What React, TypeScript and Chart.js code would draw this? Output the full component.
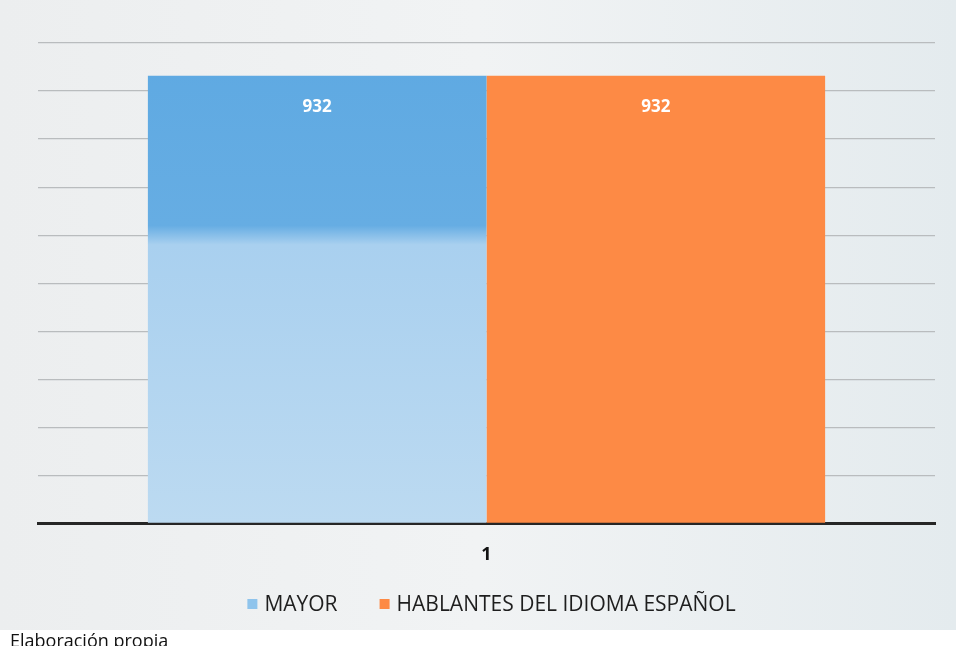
import React, { useEffect, useRef } from "react";
import { Chart, registerables } from "chart.js";

Chart.register(...registerables);

const categories = ["1"];
const seriesNames = ["MAYOR", "HABLANTES DEL IDIOMA ESPAÑOL"];
const mayorValues = [932];
const hablantesValues = [932];
const yMax = 1000;
const yStep = 100;
const legendColors = ["#8fc4ec", "#fd8a45"];

const valueLabels = {
  id: "valueLabels",
  afterDatasetsDraw(chart: any) {
    const ctx = chart.ctx;
    ctx.save();
    ctx.font = "bold 17px 'Open Sans', sans-serif";
    ctx.fillStyle = "#ffffff";
    ctx.textAlign = "center";
    ctx.textBaseline = "middle";
    chart.data.datasets.forEach((ds: any, i: number) => {
      const meta = chart.getDatasetMeta(i);
      meta.data.forEach((bar: any, j: number) => {
        ctx.fillText(String(ds.data[j]), bar.x, bar.y + 31);
      });
    });
    ctx.restore();
  },
};

const bottomLegend = {
  id: "bottomLegend",
  afterDraw(chart: any) {
    const ctx = chart.ctx;
    const area = chart.chartArea;
    ctx.save();
    ctx.font = "21px 'Open Sans', sans-serif";
    ctx.textBaseline = "middle";
    ctx.textAlign = "left";
    const box = 10;
    const gap = 7;
    const itemGap = 42;
    const items = chart.data.datasets.map((ds: any, i: number) => ({
      text: ds.label,
      color: legendColors[i],
      w: box + gap + ctx.measureText(ds.label).width,
    }));
    const total = items.reduce((s: number, it: any) => s + it.w, 0) + itemGap * (items.length - 1);
    let x = (area.left + area.right) / 2 + 5 - total / 2;
    const y = 605;
    items.forEach((it: any) => {
      ctx.fillStyle = it.color;
      ctx.fillRect(x, y - box / 2 - 1, box, box);
      ctx.fillStyle = "#1e1e1e";
      ctx.fillText(it.text, x + box + gap, y);
      x += it.w + itemGap;
    });
    ctx.restore();
  },
};

const bgPlugin = {
  id: "bgPlugin",
  beforeDraw(chart: any) {
    const ctx = chart.ctx;
    ctx.save();
    const g = ctx.createLinearGradient(0, 0, chart.width, 0);
    g.addColorStop(0, "#eceeef");
    g.addColorStop(0.5, "#f1f3f4");
    g.addColorStop(1, "#e4ebee");
    ctx.fillStyle = g;
    ctx.fillRect(0, 0, chart.width, chart.height);
    ctx.restore();
  },
};

export default function App() {
  const ref = useRef<HTMLCanvasElement>(null);
  useEffect(() => {
    if (!ref.current) return;
    const chart = new Chart(ref.current, {
      type: "bar",
      data: {
        labels: categories,
        datasets: [
          {
            label: seriesNames[0],
            data: mayorValues,
            backgroundColor: (c: any) => {
              const area = c.chart.chartArea;
              if (!area) return "#8fc2ea";
              const g = c.chart.ctx.createLinearGradient(0, area.top, 0, area.bottom);
              g.addColorStop(0, "#5ea9e2");
              g.addColorStop(0.38, "#66ade3");
              g.addColorStop(0.42, "#a9d0ef");
              g.addColorStop(1, "#bcdaf1");
              return g;
            },
            borderWidth: 0,
            categoryPercentage: 0.755,
            barPercentage: 1.0,
          },
          {
            label: seriesNames[1],
            data: hablantesValues,
            backgroundColor: "#fd8a45",
            borderWidth: 0,
            categoryPercentage: 0.755,
            barPercentage: 1.0,
          },
        ],
      },
      options: {
        animation: false,
        responsive: false,
        maintainAspectRatio: false,
        layout: { padding: { top: 43, left: 38, right: 21, bottom: 51 } },
        plugins: {
          tooltip: { enabled: false },
          legend: { display: false },
        },
        scales: {
          x: {
            grid: { display: false },
            border: { display: true, color: "#262626", width: 3 },
            ticks: {
              color: "#111",
              font: { family: "'Open Sans', sans-serif", size: 18, weight: "bold" },
              padding: 13,
            },
          },
          y: {
            min: 0,
            max: yMax,
            ticks: { display: false, stepSize: yStep },
            grid: { color: "#b9bcbe", lineWidth: 1.2, drawTicks: false },
            border: { display: false },
          },
        },
      },
      plugins: [bgPlugin, valueLabels, bottomLegend],
    });
    return () => chart.destroy();
  }, []);
  return (
    <div style={{ position: "fixed", left: 0, top: 0, width: 956, height: 646, overflow: "hidden", background: "#ffffff" }}>
      <canvas ref={ref} width={956} height={630} style={{ display: "block" }} />
      <div
        style={{
          position: "absolute",
          left: 10,
          top: 629,
          fontFamily: "'Open Sans', sans-serif",
          fontSize: 18,
          color: "#111",
          lineHeight: "22px",
        }}
      >
        Elaboración propia
      </div>
    </div>
  );
}
